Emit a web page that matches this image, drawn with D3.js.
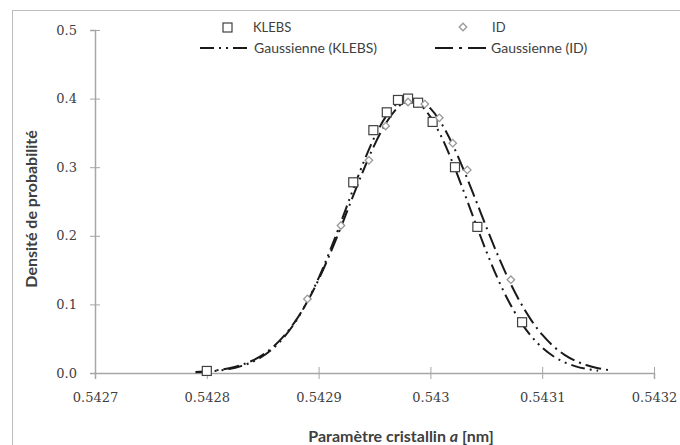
<!DOCTYPE html>
<html>
<head>
<meta charset="utf-8">
<script src="https://cdn.jsdelivr.net/npm/d3@7"></script>
<style>
  body { margin: 0; background: #fff; }
  svg { display: block; }
</style>
</head>
<body>
<div id="chart"></div>
<script>
// tick values / labels
var xTicks = [0.5427, 0.5428, 0.5429, 0.5430, 0.5431, 0.5432];
var xTickLabels = ["0.5427", "0.5428", "0.5429", "0.543", "0.5431", "0.5432"];
var yTicks = [0.0, 0.1, 0.2, 0.3, 0.4, 0.5];

var klebsX = [0.54280, 0.542931, 0.542949, 0.542961, 0.542971, 0.54298, 0.542989, 0.543002, 0.543022, 0.543042, 0.543082];
var klebsY = [0.003, 0.278, 0.354, 0.380, 0.398, 0.400, 0.394, 0.366, 0.300, 0.213, 0.074];
var idX = [0.54289, 0.54292, 0.542945, 0.54296, 0.54298, 0.542995, 0.543008, 0.54302, 0.543033, 0.543072];
var idY = [0.108, 0.215, 0.310, 0.360, 0.395, 0.392, 0.372, 0.335, 0.296, 0.136];

// gaussian curves
var gaussKlebsX = [0.54279, 0.54280, 0.54281, 0.54282, 0.54283, 0.54284, 0.54285, 0.54286, 0.54287, 0.54288,
  0.54289, 0.54290, 0.54291, 0.54292, 0.54293, 0.54294, 0.54295, 0.54296, 0.54297, 0.54298,
  0.54299, 0.54300, 0.54301, 0.54302, 0.54303, 0.54304, 0.54305, 0.54306, 0.54307, 0.54308,
  0.54309, 0.54310, 0.54311, 0.54312, 0.54313, 0.54314, 0.54315];
var gaussKlebsY = [0.0010, 0.0019, 0.0034, 0.0058, 0.0097, 0.0157, 0.0244, 0.0369, 0.0540, 0.0764,
  0.1046, 0.1384, 0.1774, 0.2200, 0.2639, 0.3062, 0.3439, 0.3733, 0.3924, 0.3989,
  0.3924, 0.3733, 0.3439, 0.3062, 0.2639, 0.2200, 0.1774, 0.1384, 0.1046, 0.0764,
  0.0540, 0.0369, 0.0244, 0.0157, 0.0097, 0.0058, 0.0034];
var gaussIdX = [0.54279, 0.54280, 0.54281, 0.54282, 0.54283, 0.54284, 0.54285, 0.54286, 0.54287, 0.54288,
  0.54289, 0.54290, 0.54291, 0.54292, 0.54293, 0.54294, 0.54295, 0.54296, 0.54297, 0.54298,
  0.54299, 0.54300, 0.54301, 0.54302, 0.54303, 0.54304, 0.54305, 0.54306, 0.54307, 0.54308,
  0.54309, 0.54310, 0.54311, 0.54312, 0.54313, 0.54314, 0.54315, 0.54316];
var gaussIdY = [0.0014, 0.0025, 0.0042, 0.0070, 0.0112, 0.0175, 0.0265, 0.0391, 0.0558, 0.0775,
  0.1043, 0.1362, 0.1729, 0.2128, 0.2545, 0.2952, 0.3326, 0.3635, 0.3857, 0.3974,
  0.3974, 0.3857, 0.3635, 0.3326, 0.2952, 0.2545, 0.2128, 0.1729, 0.1362, 0.1043,
  0.0775, 0.0558, 0.0391, 0.0265, 0.0175, 0.0112, 0.0070, 0.0042];

var width = 680;
var height = 445;

var svg = d3.select("#chart")
    .append("svg")
    .attr("width", width)
    .attr("height", height);

// outer chart frame
svg.append("rect")
    .attr("x", 12.5).attr("y", 10.5)
    .attr("width", 700).attr("height", 460)
    .attr("fill", "none")
    .attr("stroke", "#bdbdbd");

var x = d3.scaleLinear().domain([0.5427, 0.5432]).range([95, 654]);
var y = d3.scaleLinear().domain([0, 0.5]).range([373, 30]);

var axisColor = "#a6a6a6";
var tickFont = "DejaVu Serif, serif";

// y axis
var yAxis = svg.append("g")
    .attr("transform", "translate(" + x(0.5427) + ",0)")
    .call(d3.axisLeft(y).tickValues(yTicks).tickSize(5).tickPadding(13).tickFormat(d3.format(".1f")));
yAxis.select(".domain").attr("stroke", axisColor).attr("stroke-width", 1.5);
yAxis.selectAll(".tick line").attr("stroke", axisColor).attr("x1", 5).attr("x2", -5);
yAxis.selectAll(".tick text")
    .style("font-family", tickFont).style("font-size", "13px").attr("fill", "#404040");

// x axis
var xAxis = svg.append("g")
    .attr("transform", "translate(0," + y(0) + ")")
    .call(d3.axisBottom(x).tickValues(xTicks).tickSize(6).tickPadding(14)
        .tickFormat(function(d, i) { return xTickLabels[i]; }));
xAxis.select(".domain").attr("stroke", axisColor).attr("stroke-width", 1.5);
xAxis.selectAll(".tick line").attr("stroke", axisColor).attr("y1", -6).attr("y2", 6);
xAxis.selectAll(".tick text")
    .style("font-family", tickFont).style("font-size", "13px").attr("fill", "#404040");

// axis titles
svg.append("text")
    .attr("transform", "translate(37,209) rotate(-90)")
    .attr("text-anchor", "middle")
    .style("font-family", "Lato, sans-serif")
    .style("font-weight", "bold")
    .style("font-size", "16px")
    .attr("fill", "#404040")
    .text("Densité de probabilité");

var xt = svg.append("text")
    .attr("x", 401).attr("y", 442)
    .attr("text-anchor", "middle")
    .style("font-family", "Lato, sans-serif")
    .style("font-weight", "bold")
    .style("font-size", "16px")
    .attr("fill", "#404040");
xt.append("tspan").text("Paramètre cristallin ");
xt.append("tspan").style("font-style", "italic").text("a");
xt.append("tspan").text(" [nm]");

// curves
var dashKlebs = "14,5,2,5,2,5";
var dashId = "16,5,2,5";

function toPairs(xs, ys) {
    return xs.map(function(v, i) { return [v, ys[i]]; });
}

var line = d3.line()
    .x(function(d) { return x(d[0]); })
    .y(function(d) { return y(d[1]); })
    .curve(d3.curveMonotoneX);

svg.append("path")
    .datum(toPairs(gaussIdX, gaussIdY))
    .attr("d", line)
    .attr("fill", "none")
    .attr("stroke", "#1a1a1a")
    .attr("stroke-width", 2)
    .attr("stroke-dasharray", dashId);

svg.append("path")
    .datum(toPairs(gaussKlebsX, gaussKlebsY))
    .attr("d", line)
    .attr("fill", "none")
    .attr("stroke", "#1a1a1a")
    .attr("stroke-width", 2)
    .attr("stroke-dasharray", dashKlebs);

// markers
svg.selectAll(".klebs")
    .data(toPairs(klebsX, klebsY))
    .enter()
    .append("rect")
    .attr("class", "klebs")
    .attr("x", function(d) { return x(d[0]) - 4.5; })
    .attr("y", function(d) { return y(d[1]) - 4.5; })
    .attr("width", 9).attr("height", 9)
    .attr("fill", "#fff")
    .attr("stroke", "#404040")
    .attr("stroke-width", 1.2);

// diamond = square turned by 45 degrees
var diamond = d3.symbol().type(d3.symbolSquare).size(28);
svg.selectAll(".id")
    .data(toPairs(idX, idY))
    .enter()
    .append("path")
    .attr("class", "id")
    .attr("d", diamond)
    .attr("transform", function(d) { return "translate(" + x(d[0]) + "," + y(d[1]) + ") rotate(45)"; })
    .attr("fill", "#fff")
    .attr("stroke", "#999")
    .attr("stroke-width", 1.3);

// legend
var legendFont = "Lato, sans-serif";
var lg = svg.append("g");

lg.append("rect")
    .attr("x", 223).attr("y", 23).attr("width", 9).attr("height", 9)
    .attr("fill", "#fff").attr("stroke", "#404040").attr("stroke-width", 1.2);
lg.append("text").attr("x", 253).attr("y", 32)
    .style("font-family", legendFont).style("font-size", "13px").attr("fill", "#404040")
    .text("KLEBS");

lg.append("path")
    .attr("d", diamond)
    .attr("transform", "translate(463,27) rotate(45)")
    .attr("fill", "#fff").attr("stroke", "#999").attr("stroke-width", 1.3);
lg.append("text").attr("x", 492).attr("y", 32)
    .style("font-family", legendFont).style("font-size", "13px").attr("fill", "#404040")
    .text("ID");

lg.append("line")
    .attr("x1", 200).attr("x2", 251).attr("y1", 48).attr("y2", 48)
    .attr("stroke", "#1a1a1a").attr("stroke-width", 2)
    .attr("stroke-dasharray", "14,5,2,5,2,5,14");
lg.append("text").attr("x", 254).attr("y", 53)
    .style("font-family", legendFont).style("font-size", "14px").attr("fill", "#404040")
    .text("Gaussienne (KLEBS)");

lg.append("line")
    .attr("x1", 435).attr("x2", 488).attr("y1", 48).attr("y2", 48)
    .attr("stroke", "#1a1a1a").attr("stroke-width", 2)
    .attr("stroke-dasharray", "18,6,3,6,18");
lg.append("text").attr("x", 491).attr("y", 53)
    .style("font-family", legendFont).style("font-size", "14px").attr("fill", "#404040")
    .text("Gaussienne (ID)");
</script>
</body>
</html>
